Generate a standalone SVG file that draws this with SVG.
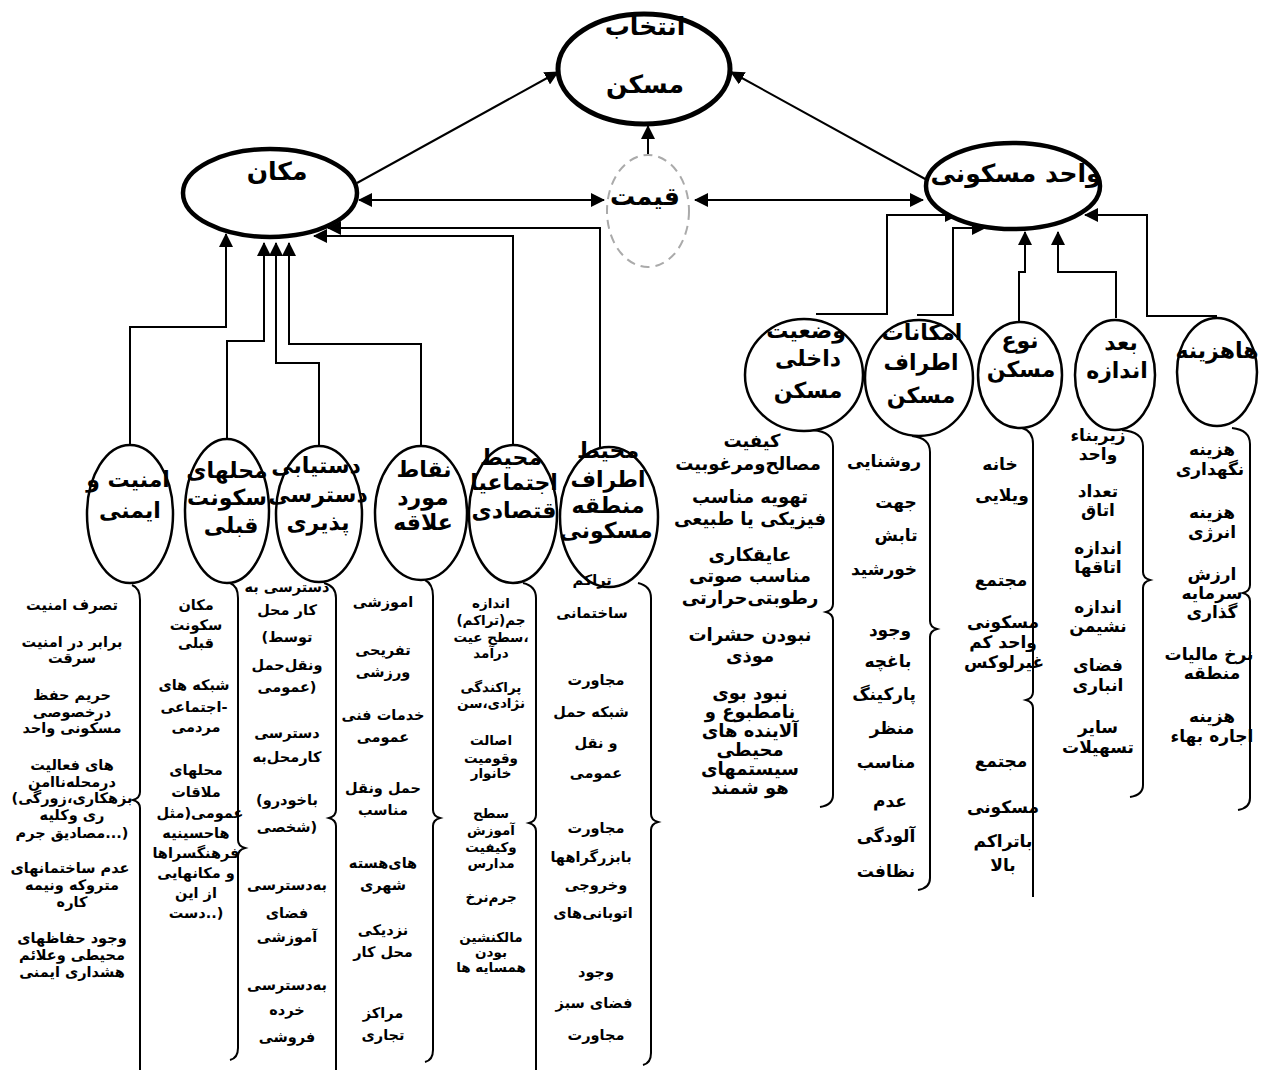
<svg xmlns="http://www.w3.org/2000/svg" width="1261" height="1070" viewBox="0 0 1261 1070">
<defs>
<marker id="ah" viewBox="0 0 14 14" refX="13" refY="7" markerWidth="14" markerHeight="14" markerUnits="userSpaceOnUse" orient="auto-start-reverse"><path d="M0,0 L14,7 L0,14 z" fill="#000"/></marker>
</defs>
<style>
.bg{fill:#fff}
.nf{fill:#fff;stroke:none}
.ns{fill:none;stroke:#000;stroke-width:2.5}
.bs{fill:none;stroke:#000;stroke-width:4.5}
.lb{font-family:"DejaVu Sans",sans-serif;font-weight:bold;font-size:22px;text-anchor:middle;fill:#000}
.lg{font-family:"DejaVu Sans",sans-serif;font-weight:bold;font-size:25px;text-anchor:middle;fill:#000}
.t{font-family:"DejaVu Sans",sans-serif;font-weight:bold;font-size:14.5px;text-anchor:middle;fill:#000}
.t13{font-size:13.5px}
.t17{font-size:17px}
.t18{font-size:18px}
.c{fill:none;stroke:#000;stroke-width:2}
.ar{marker-end:url(#ah)}
.ar2{marker-start:url(#ah);marker-end:url(#ah)}
.br{fill:none;stroke:#000;stroke-width:2}
</style>
<rect class="bg" width="1261" height="1070"/>

<g id="connectors">
<path class="c ar" d="M357,183 L558,72"/>
<path class="c ar" d="M927,180 L731,72"/>
<path class="c ar" d="M648,155 L648,126"/>
<path class="c ar2" d="M359,200 L604,200"/>
<path class="c ar2" d="M695,200 L923,200"/>
<path class="c ar" d="M130,445 V327 H226 V234"/>
<path class="c ar" d="M227,439 V341 H264 V243"/>
<path class="c ar" d="M319,446 V363 H276 V243"/>
<path class="c ar" d="M421,446 V344 H289 V243"/>
<path class="c ar" d="M513,445 V236 H314"/>
<path class="c ar" d="M600,447 V228 H328"/>
<path class="c ar" d="M816,314 H887 V215 H958"/>
<path class="c ar" d="M917,315 H953 V228 H985"/>
<path class="c ar" d="M1019,322 V272 H1025 V232"/>
<path class="c ar" d="M1116,318 V272 H1058 V232"/>
<path class="c ar" d="M1217,316 H1147 V215 H1085"/>
</g>

<g id="braces">
<path class="br" d="M132,585 Q140,588 140,600 V792 Q140,798 133,800 Q140,802 140,808 V1075"/>
<path class="br" d="M230,583 Q238,586 238,598 V840 Q238,846 245,848 Q238,850 238,856 V1048 Q238,1058 230,1060"/>
<path class="br" d="M324,583 Q336,586 336,598 V810 Q336,816 329,818 Q336,820 336,826 V1075"/>
<path class="br" d="M425,580 Q433,584 433,596 V810 Q433,816 440,818 Q433,820 433,826 V1050 Q433,1060 425,1062"/>
<path class="br" d="M523,583 Q536,586 536,598 V815 Q536,821 529,823 Q536,825 536,831 V1075"/>
<path class="br" d="M638,583 Q651,586 651,598 V814 Q651,820 658,822 Q651,824 651,830 V1053 Q651,1063 643,1065"/>
<path class="br" d="M813,430 Q833,432 833,446 V604 Q833,610 826,612 Q833,614 833,620 V795 Q833,805 820,807"/>
<path class="br" d="M912,436 Q930,438 930,452 V621 Q930,627 937,629 Q930,631 930,637 V878 Q930,888 918,890"/>
<path class="br" d="M1022,428 Q1033,431 1033,444 V692 Q1033,698 1026,700 Q1033,702 1033,708 V897"/>
<path class="br" d="M1122,430 Q1143,432 1143,446 V572 Q1143,578 1150,580 Q1143,582 1143,588 V785 Q1143,795 1130,797"/>
<path class="br" d="M1232,428 Q1250,430 1250,444 V585 Q1250,591 1243,593 Q1250,595 1250,601 V798 Q1250,808 1238,810"/>
</g>

<g id="n-top">
<ellipse class="nf" cx="644" cy="69" rx="86" ry="55"/>
<text class="lg" x="645" y="35">انتخاب</text>
<text class="lg" x="645" y="93">مسکن</text>
<ellipse class="bs" cx="644" cy="69" rx="86" ry="55" style="stroke-width:5"/>
</g>
<g id="n-makan">
<ellipse class="nf" cx="270" cy="193" rx="87" ry="44"/>
<text class="lg" x="277" y="180">مکان</text>
<ellipse class="bs" cx="270" cy="193" rx="87" ry="44"/>
</g>
<g id="n-gheymat">
<ellipse cx="648" cy="211" rx="41" ry="56" fill="#fff" stroke="#aaa" stroke-width="2" stroke-dasharray="9 6"/>
<text class="lg" x="645" y="205">قیمت</text>
</g>
<g id="n-vahed">
<ellipse class="nf" cx="1013" cy="186" rx="87" ry="43"/>
<text class="lg" x="1016" y="182">واحد مسکونی</text>
<ellipse class="bs" cx="1013" cy="186" rx="87" ry="43"/>
</g>

<g id="n-amniyat">
<ellipse class="nf" cx="130" cy="514" rx="43" ry="69"/>
<text class="lb" x="128" y="487">امنیت و</text>
<text class="lb" x="130" y="518">ایمنی</text>
<ellipse class="ns" cx="130" cy="514" rx="43" ry="69"/>
</g>
<g id="n-mahalle">
<ellipse class="nf" cx="227" cy="511" rx="42" ry="72"/>
<text class="lb" x="227" y="478">محلهای</text>
<text class="lb" x="227" y="505">سکونت</text>
<text class="lb" x="231" y="533">قبلی</text>
<ellipse class="ns" cx="227" cy="511" rx="42" ry="72"/>
</g>
<g id="n-dastyabi">
<ellipse class="nf" cx="319" cy="514" rx="43" ry="68"/>
<text class="lb" x="316" y="473">دستیابی</text>
<text class="lb" x="318" y="502">دسترسی</text>
<text class="lb" x="318" y="530">پذیری</text>
<ellipse class="ns" cx="319" cy="514" rx="43" ry="68"/>
</g>
<g id="n-noghat">
<ellipse class="nf" cx="421" cy="513" rx="46" ry="67"/>
<text class="lb" x="424" y="477">نقاط</text>
<text class="lb" x="423" y="505">مورد</text>
<text class="lb" x="423" y="530">علاقه</text>
<ellipse class="ns" cx="421" cy="513" rx="46" ry="67"/>
</g>
<g id="n-ejtemai">
<ellipse class="nf" cx="513" cy="514" rx="44" ry="69"/>
<text class="lb" x="511" y="465">محیط</text>
<text class="lb" x="514" y="490">اجتماعیا</text>
<text class="lb" x="514" y="518">قتصادی</text>
<ellipse class="ns" cx="513" cy="514" rx="44" ry="69"/>
</g>
<g id="n-atraf">
<ellipse class="nf" cx="609" cy="517" rx="49" ry="70"/>
<text class="lb" x="608" y="458">محیط</text>
<text class="lb" x="608" y="487">اطراف</text>
<text class="lb" x="608" y="513">منطقه</text>
<text class="lb" x="606" y="538">مسکونی</text>
<ellipse class="ns" cx="609" cy="517" rx="49" ry="70"/>
</g>

<g id="n-vaziat">
<ellipse class="nf" cx="804" cy="375" rx="59" ry="56"/>
<text class="lb" x="806" y="338">وضعیت</text>
<text class="lb" x="808" y="366">داخلی</text>
<text class="lb" x="808" y="398">مسکن</text>
<ellipse class="ns" cx="804" cy="375" rx="59" ry="56"/>
</g>
<g id="n-emkanat">
<ellipse class="nf" cx="919" cy="378" rx="54" ry="58"/>
<text class="lb" x="922" y="340">امکانات</text>
<text class="lb" x="921" y="370">اطراف</text>
<text class="lb" x="921" y="403">مسکن</text>
<ellipse class="ns" cx="919" cy="378" rx="54" ry="58"/>
</g>
<g id="n-noe">
<ellipse class="nf" cx="1020" cy="375" rx="42" ry="53"/>
<text class="lb" x="1020" y="348">نوع</text>
<text class="lb" x="1021" y="377">مسکن</text>
<ellipse class="ns" cx="1020" cy="375" rx="42" ry="53"/>
</g>
<g id="n-bod">
<ellipse class="nf" cx="1115" cy="375" rx="40" ry="55"/>
<text class="lb" x="1121" y="350">بعد</text>
<text class="lb" x="1117" y="378">اندازه</text>
<ellipse class="ns" cx="1115" cy="375" rx="40" ry="55"/>
</g>
<g id="n-hazine">
<ellipse class="nf" cx="1217" cy="372" rx="40" ry="54"/>
<text class="lb" x="1217" y="358">هاهزینه</text>
<ellipse class="ns" cx="1217" cy="372" rx="40" ry="54"/>
</g>

<g id="col-amniyat" class="t">
<text x="72" y="610">تصرف امنیت</text>
<text x="72" y="647">برابر در امنیت</text>
<text x="72" y="663">سرقت</text>
<text x="72" y="700">حریم حفظ</text>
<text x="72" y="717">درخصوصی</text>
<text x="72" y="733">مسکونی واحد</text>
<text x="72" y="770">های فعالیت</text>
<text x="72" y="787">درمحله‌ناامن</text>
<text x="72" y="803">(بزهکاری،زورگی</text>
<text x="72" y="820">ری وکلیه</text>
<text x="72" y="838">مصادیق جرم...)</text>
<text x="70" y="873">عدم ساختمانهای</text>
<text x="72" y="890">متروکه ونیمه</text>
<text x="72" y="907">کاره</text>
<text x="72" y="943">وجود حفاظهای</text>
<text x="72" y="960">محیطی وعلائم</text>
<text x="72" y="977">هشداری ایمنی</text>
</g>
<g id="col-mahalle" class="t">
<text x="196" y="610">مکان</text>
<text x="196" y="630">سکونت</text>
<text x="196" y="648">قبلی</text>
<text x="194" y="690">شبکه های</text>
<text x="194" y="712">اجتماعی-</text>
<text x="196" y="732">مردمی</text>
<text x="196" y="775">محلهای</text>
<text x="196" y="797">ملاقات</text>
<text x="200" y="818">عمومی(مثل</text>
<text x="196" y="838">هاحسینیه</text>
<text x="196" y="858">فرهنگسراها</text>
<text x="196" y="878">و مکانهایی</text>
<text x="196" y="898">از این</text>
<text x="196" y="918">دست..)</text>
</g>
<g id="col-dastyabi" class="t">
<text x="287" y="592">دسترسی به</text>
<text x="287" y="615">کار محل</text>
<text x="287" y="642">(توسط</text>
<text x="287" y="670">ونقل‌حمل</text>
<text x="287" y="692">عمومی)</text>
<text x="287" y="738">دسترسی</text>
<text x="287" y="762">کارمحل‌به</text>
<text x="287" y="805">(باخودرو</text>
<text x="287" y="832">شخصی)</text>
<text x="287" y="890">به‌دسترسی</text>
<text x="287" y="918">فضای</text>
<text x="287" y="942">آموزشی</text>
<text x="287" y="990">به‌دسترسی</text>
<text x="287" y="1015">خرده</text>
<text x="287" y="1042">فروشی</text>
</g>
<g id="col-noghat" class="t">
<text x="383" y="607">اموزشی</text>
<text x="383" y="655">تفریحی</text>
<text x="383" y="677">ورزشی</text>
<text x="383" y="720">خدمات فنی</text>
<text x="383" y="742">عمومی</text>
<text x="383" y="793">حمل ونقل</text>
<text x="383" y="815">مناسب</text>
<text x="383" y="868">های‌هسته</text>
<text x="383" y="890">شهری</text>
<text x="383" y="935">نزدیکی</text>
<text x="383" y="957">محل کار</text>
<text x="383" y="1018">مراکز</text>
<text x="383" y="1040">تجاری</text>
</g>
<g id="col-ejtemai" class="t t13">
<text x="491" y="608">اندازه</text>
<text x="491" y="625">(تراکم)جم</text>
<text x="491" y="642">سطح عیت،</text>
<text x="491" y="658">درآمد</text>
<text x="491" y="692">پراکندگی</text>
<text x="491" y="708">نژادی،سن</text>
<text x="491" y="745">اصالت</text>
<text x="491" y="763">وقومیت</text>
<text x="491" y="778">خانوار</text>
<text x="491" y="818">سطح</text>
<text x="491" y="835">آموزش</text>
<text x="491" y="852">وکیفیت</text>
<text x="491" y="868">مدارس</text>
<text x="491" y="902">جرم‌نرخ</text>
<text x="491" y="942">مالکنشین</text>
<text x="491" y="957">بودن</text>
<text x="491" y="972">همسایه ها</text>
</g>
<g id="col-atraf" class="t">
<text x="592" y="585">تراکم</text>
<text x="592" y="618">ساختمانی</text>
<text x="596" y="685">مجاورت</text>
<text x="591" y="717">شبکه حمل</text>
<text x="596" y="748">و نقل</text>
<text x="596" y="778">عمومی</text>
<text x="596" y="833">مجاورت</text>
<text x="591" y="862">بابزرگراهها</text>
<text x="596" y="890">وخروجی</text>
<text x="593" y="918">اتوبانی‌های</text>
<text x="596" y="977">وجود</text>
<text x="594" y="1008">فضای سبز</text>
<text x="596" y="1040">مجاورت</text>
</g>

<g id="col-vaziat" class="t t18">
<text x="752" y="447">کیفیت</text>
<text x="748" y="470">مصالح‌ومرغوبیت</text>
<text x="750" y="503">تهویه مناسب</text>
<text x="750" y="525">فیزیکی یا طبیعی</text>
<text x="750" y="561">عایقکاری</text>
<text x="750" y="582">مناسب صوتی</text>
<text x="750" y="604">رطوبتی‌حرارتی</text>
<text x="750" y="641">نبودن حشرات</text>
<text x="750" y="662">موذی</text>
<text x="750" y="699">نبود بوی</text>
<text x="750" y="718">نامطبوع و</text>
<text x="750" y="737">آلاینده های</text>
<text x="750" y="756">محیطی</text>
<text x="750" y="775">سیستمهای</text>
<text x="750" y="794">هو شمند</text>
</g>
<g id="col-emkanat" class="t t17">
<text x="884" y="467">روشنایی</text>
<text x="896" y="508">جهت</text>
<text x="896" y="541">تابش</text>
<text x="884" y="575">خورشید</text>
<text x="890" y="636">وجود</text>
<text x="888" y="667">باغچه</text>
<text x="884" y="700">پارکینگ</text>
<text x="892" y="734">منظر</text>
<text x="886" y="768">مناسب</text>
<text x="890" y="807">عدم</text>
<text x="886" y="842">آلودگی</text>
<text x="886" y="877">نظافت</text>
</g>
<g id="col-noe" class="t t17">
<text x="1000" y="470">خانه</text>
<text x="1002" y="501">ویلایی</text>
<text x="1001" y="586">مجتمع</text>
<text x="1003" y="628">مسکونی</text>
<text x="1003" y="648">واحد کم</text>
<text x="1004" y="668">غیرلوکس</text>
<text x="1001" y="767">مجتمع</text>
<text x="1003" y="813">مسکونی</text>
<text x="1003" y="847">باتراکم</text>
<text x="1003" y="871">بالا</text>
</g>
<g id="col-bod" class="t t17">
<text x="1098" y="441">زیربناء</text>
<text x="1098" y="460">واحد</text>
<text x="1098" y="497">تعداد</text>
<text x="1098" y="516">اتاق</text>
<text x="1098" y="554">اندازه</text>
<text x="1098" y="573">اتاقها</text>
<text x="1098" y="613">اندازه</text>
<text x="1098" y="632">نشیمن</text>
<text x="1098" y="671">فضای</text>
<text x="1098" y="691">انباری</text>
<text x="1098" y="733">سایر</text>
<text x="1098" y="753">تسهیلات</text>
</g>
<g id="col-hazine" class="t t17">
<text x="1212" y="455">هزینه</text>
<text x="1210" y="475">نگهداری</text>
<text x="1212" y="518">هزینه</text>
<text x="1212" y="538">انرژی</text>
<text x="1212" y="580">ارزش</text>
<text x="1212" y="599">سرمایه</text>
<text x="1212" y="618">گذاری</text>
<text x="1209" y="660">نرخ مالیات</text>
<text x="1212" y="679">منطقه</text>
<text x="1212" y="722">هزینه</text>
<text x="1212" y="742">اجاره بهاء</text>
</g>
</svg>
